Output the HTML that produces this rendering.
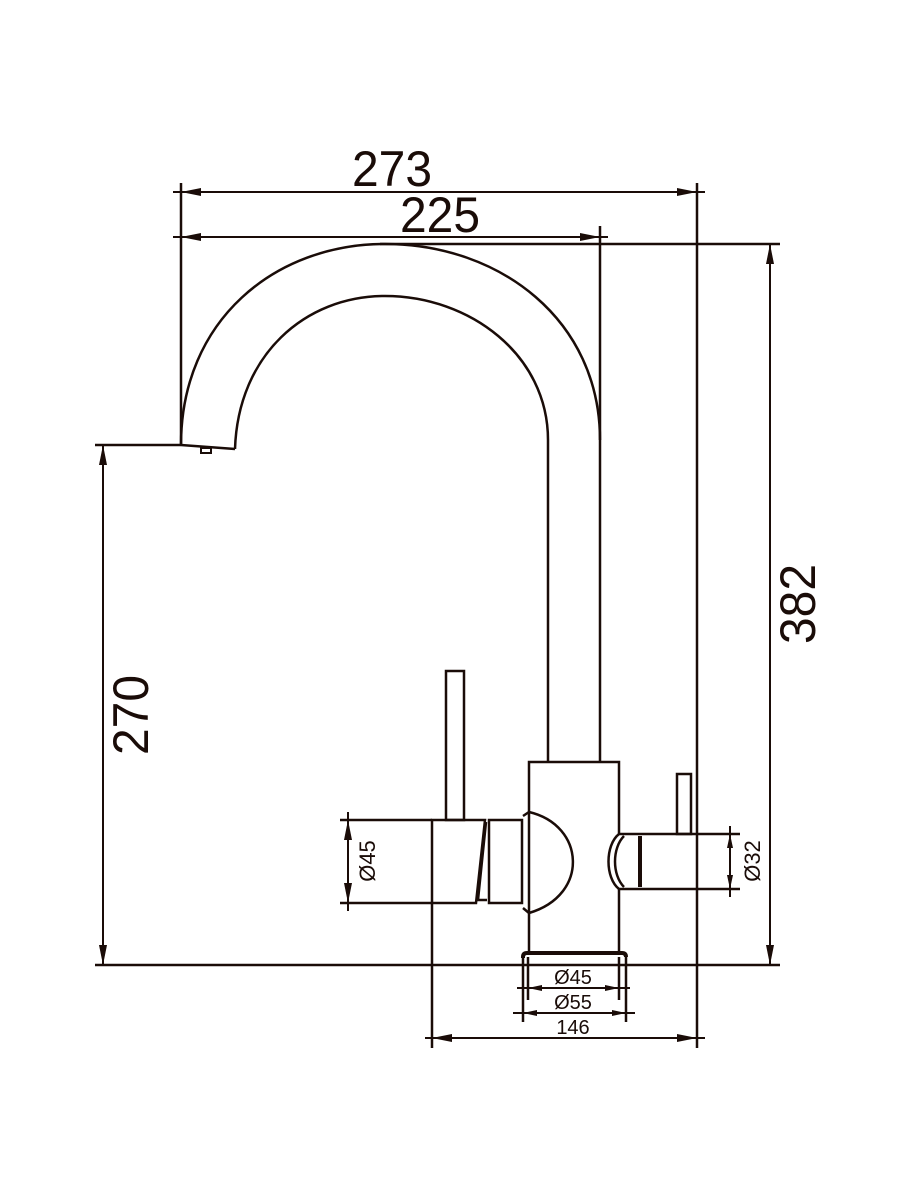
<!DOCTYPE html>
<html><head><style>html,body{margin:0;padding:0;background:#fff}svg{display:block}</style></head>
<body>
<svg width="900" height="1200" viewBox="0 0 900 1200" xmlns="http://www.w3.org/2000/svg">
<defs>
<marker id="a" viewBox="0 0 20 8" refX="20" refY="4" markerWidth="20" markerHeight="8" markerUnits="userSpaceOnUse" orient="auto-start-reverse"><path d="M0,0 L20,4 L0,8 z" fill="#1a0c08"/></marker>
<marker id="s" viewBox="0 0 14 6" refX="14" refY="3" markerWidth="14" markerHeight="6" markerUnits="userSpaceOnUse" orient="auto-start-reverse"><path d="M0,0 L14,3 L0,6 z" fill="#1a0c08"/></marker>
</defs>
<g stroke="#1a0c08" fill="none" stroke-width="2.5">
<line x1="181" y1="183" x2="181" y2="445"/>
<line x1="697" y1="183" x2="697" y2="1048"/>
<line x1="600" y1="226" x2="600" y2="440"/>
<line x1="380" y1="244" x2="780" y2="244"/>
<line x1="95" y1="445" x2="181" y2="445"/>
<line x1="95" y1="965" x2="780" y2="965"/>
<line x1="173" y1="192" x2="705" y2="192" stroke-width="2"/>
<line x1="181" y1="192" x2="697" y2="192" marker-start="url(#a)" marker-end="url(#a)" stroke-width="2"/>
<line x1="173" y1="237" x2="608" y2="237" stroke-width="2"/>
<line x1="181" y1="237" x2="600" y2="237" marker-start="url(#a)" marker-end="url(#a)" stroke-width="2"/>
<line x1="770" y1="244" x2="770" y2="965" marker-start="url(#a)" marker-end="url(#a)" stroke-width="2"/>
<line x1="103" y1="445" x2="103" y2="965" marker-start="url(#a)" marker-end="url(#a)" stroke-width="2"/>
<path d="M181,445 C181,320 275,244 385,244 C500,244 600,320 600,440 L600,762"/>
<path d="M235,449 C238,355 305,296 385,296 C470,296 548,355 548,440 L548,762"/>
<path d="M181,445 L235,449"/>
<rect x="201" y="448" width="10" height="5" stroke-width="2"/>
<path d="M529,913 L529,762 L619,762 L619,834"/>
<path d="M619,889 L619,953"/>
<path d="M529,913 L529,953"/>
<path d="M523,958 L523,957 Q523,953 527,953 L622,953 Q626,953 626,957" stroke-width="4"/>
<line x1="523" y1="957" x2="523" y2="1022"/>
<line x1="626" y1="957" x2="626" y2="1022"/>
<line x1="528" y1="957" x2="528" y2="1000"/>
<line x1="619" y1="957" x2="619" y2="1000"/>
<line x1="517" y1="988" x2="630" y2="988" stroke-width="2"/>
<line x1="528" y1="988" x2="619" y2="988" marker-start="url(#s)" marker-end="url(#s)" stroke-width="2"/>
<line x1="513" y1="1013" x2="635" y2="1013" stroke-width="2"/>
<line x1="523" y1="1013" x2="626" y2="1013" marker-start="url(#s)" marker-end="url(#s)" stroke-width="2"/>
<line x1="425" y1="1038" x2="705" y2="1038" stroke-width="2"/>
<line x1="432" y1="1038" x2="697" y2="1038" marker-start="url(#a)" marker-end="url(#a)" stroke-width="2"/>
<line x1="432" y1="903" x2="432" y2="1048"/>
<path d="M432,820 L485,820 L476,903 L432,903 Z"/>
<path d="M486,822 L478,900 L487,900"/>
<rect x="489" y="820" width="33" height="83"/>
<path d="M529,812 C585,825 590,895 529,913" />
<path d="M523,816 L529,812 M523,908 L529,913"/>
<rect x="446" y="671" width="18" height="149"/>
<line x1="340" y1="820" x2="432" y2="820"/>
<line x1="340" y1="903" x2="432" y2="903"/>
<line x1="348" y1="812" x2="348" y2="911" stroke-width="2"/>
<line x1="348" y1="820" x2="348" y2="903" marker-start="url(#a)" marker-end="url(#a)" stroke-width="2"/>
<path d="M619,834 C605,845 605,878 619,889"/>
<path d="M624,836 C612,848 612,875 624,887"/>
<path d="M619,834 L697,834 M619,889 L697,889"/>
<line x1="640" y1="836" x2="640" y2="887" stroke-width="4"/>
<rect x="677" y="774" width="14" height="60"/>
<line x1="697" y1="834" x2="740" y2="834"/>
<line x1="697" y1="889" x2="740" y2="889"/>
<line x1="730" y1="826" x2="730" y2="897" stroke-width="2"/>
<line x1="730" y1="834" x2="730" y2="889" marker-start="url(#s)" marker-end="url(#s)" stroke-width="2"/>
</g>
<g fill="#1a0c08" font-family="Liberation Sans, sans-serif">
<text x="392" y="186" font-size="50" text-anchor="middle" textLength="80" lengthAdjust="spacingAndGlyphs">273</text>
<text x="440" y="232" font-size="50" text-anchor="middle" textLength="80" lengthAdjust="spacingAndGlyphs">225</text>
<text transform="translate(815,604) rotate(-90)" font-size="50" text-anchor="middle" textLength="80" lengthAdjust="spacingAndGlyphs">382</text>
<text transform="translate(148,715) rotate(-90)" font-size="50" text-anchor="middle" textLength="80" lengthAdjust="spacingAndGlyphs">270</text>
<text x="573" y="984" font-size="20" text-anchor="middle">Ø45</text>
<text x="573" y="1009" font-size="20" text-anchor="middle">Ø55</text>
<text x="573" y="1034" font-size="20" text-anchor="middle">146</text>
<text transform="translate(375,861) rotate(-90)" font-size="22" text-anchor="middle">Ø45</text>
<text transform="translate(760,861) rotate(-90)" font-size="22" text-anchor="middle">Ø32</text>
</g>
</svg>
</body></html>
